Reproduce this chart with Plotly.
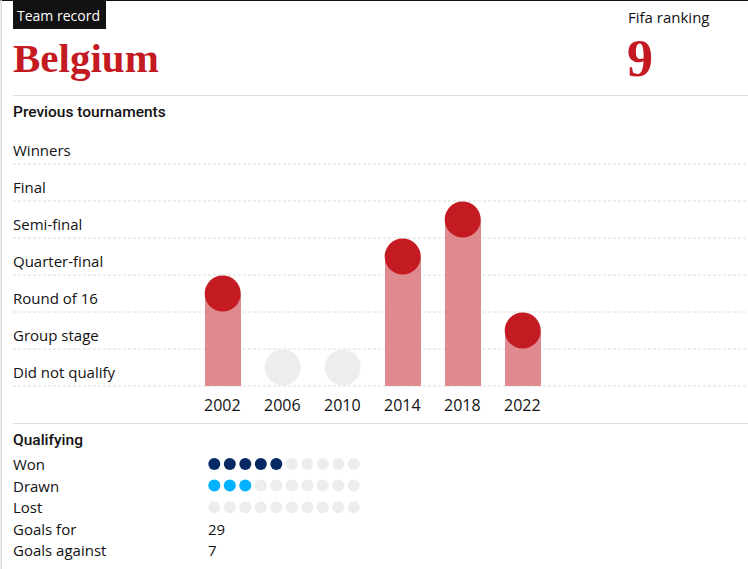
import plotly.graph_objects as go

# ---------------- data ----------------
team = "Belgium"
fifa_ranking = 9
stages = ["Did not qualify", "Group stage", "Round of 16", "Quarter-final",
          "Semi-final", "Final", "Winners"]
years = ["2002", "2006", "2010", "2014", "2018", "2022"]
year_stage = ["Round of 16", "Did not qualify", "Did not qualify",
              "Quarter-final", "Semi-final", "Group stage"]
qual_rows = ["Won", "Drawn", "Lost"]
qual_values = [5, 3, 0]
qual_slots = 10
goals_for = 29
goals_against = 7

# ---------------- style ----------------
W, H = 748, 569
FONT = "Open Sans"
TXT = "#121212"
RED = "#c41a22"
BAR = "#df8a8e"
GREY = "#ededed"
LINE = "#dcdcdc"
WON_C = "#052962"
DRAWN_C = "#00b2ff"

def px(p):
    return p / W

def py(p):
    return 1 - p / H

# main axis mapping: year index i -> pixel 222.7 + 60*i ; stage v -> pixel 367.5 - 37*v
X0, DX = 222.7, 60.0
Y0, DY = 367.5, 37.0
xr = [(0 - X0) / DX, (W - X0) / DX]
yr = [(Y0 - H) / DY, Y0 / DY]

# qualifying axis: slot j -> 214.3 + 15.5*j ; row r -> 464 + 21.6*r
QX0, QDX = 214.3, 15.5
QY0, QDY = 464.0, 21.6
x2r = [(0 - QX0) / QDX, (W - QX0) / QDX]
y2r = [(H - QY0) / QDY, (0 - QY0) / QDY]

fig = go.Figure()

idx = list(range(len(years)))
sv = [stages.index(s) for s in year_stage]
base = -0.5
qual_idx = [i for i in idx if sv[i] > 0]
dnq_idx = [i for i in idx if sv[i] == 0]

fig.add_trace(go.Bar(x=qual_idx, y=[sv[i] - base for i in qual_idx], base=base,
                     width=0.6, marker=dict(color=BAR, line=dict(width=0)),
                     hoverinfo="skip", showlegend=False))
fig.add_trace(go.Scatter(x=dnq_idx, y=[sv[i] for i in dnq_idx], mode="markers",
                         marker=dict(size=36, color=GREY, line=dict(width=0)),
                         hoverinfo="skip", showlegend=False))
fig.add_trace(go.Scatter(x=qual_idx, y=[sv[i] for i in qual_idx], mode="markers",
                         marker=dict(size=36, color=RED, line=dict(width=0)),
                         hoverinfo="skip", showlegend=False))

# qualifying dots
row_colors = [WON_C, DRAWN_C, GREY]
for r, (name, val) in enumerate(zip(qual_rows, qual_values)):
    xs = list(range(qual_slots))
    cols = [row_colors[r] if j < val else GREY for j in xs]
    fig.add_trace(go.Scatter(x=xs, y=[r] * qual_slots, mode="markers",
                             marker=dict(size=12, color=cols, line=dict(width=0)),
                             xaxis="x2", yaxis="y2", hoverinfo="skip", showlegend=False))

shapes = []
# dashed gridlines under each stage row
for k in range(len(stages)):
    shapes.append(dict(type="line", xref="paper", yref="y", x0=px(13), x1=1,
                       y0=k - 0.5, y1=k - 0.5, layer="below",
                       line=dict(color=LINE, width=1, dash="3px,2px")))
# solid separators
for yy in (95.5, 423.5):
    shapes.append(dict(type="line", xref="paper", yref="paper", x0=px(13), x1=1,
                       y0=py(yy), y1=py(yy), line=dict(color=LINE, width=1)))
# top border and left border
shapes.append(dict(type="line", xref="paper", yref="paper", x0=0, x1=1,
                   y0=py(0.5), y1=py(0.5), line=dict(color=TXT, width=1)))
shapes.append(dict(type="line", xref="paper", yref="paper", x0=px(1.2), x1=px(1.2),
                   y0=0, y1=1, line=dict(color=LINE, width=1.5)))
# label box
shapes.append(dict(type="rect", xref="paper", yref="paper", x0=px(13), x1=px(106),
                   y0=py(29), y1=1, fillcolor=TXT, line=dict(width=0)))

ann = []
PAD = 2  # annotation box padding
def text(x, y, s, size=15, color=TXT, family=FONT, xanchor="left", weight=None):
    f = dict(size=size, color=color, family=family)
    if weight:
        f["weight"] = weight
    ann.append(dict(xref="paper", yref="paper", x=px(x - PAD), y=py(y), text=s,
                    showarrow=False, xanchor=xanchor, yanchor="middle", font=f))

text(17, 15, "Team record", size=14, color="#ffffff")
text(13, 58, team, size=41, color=RED, family="Liberation Serif", weight="bold")
text(628, 17, "Fifa ranking", size=15)
text(627, 58, str(fifa_ranking), size=52, color=RED, family="Liberation Serif", weight="bold")
text(13, 112, "Previous tournaments", size=15.5, family="Roboto", weight=500)
for k, s in enumerate(stages):
    text(13, Y0 - DY * k + 4.5, s, size=15)
for i, y in enumerate(years):
    ann.append(dict(xref="x", yref="paper", x=i, y=py(405), text=y, showarrow=False,
                    xanchor="center", yanchor="middle",
                    font=dict(size=16, color=TXT, family=FONT)))
text(13, 440, "Qualifying", size=15.5, family="Roboto", weight=500)
for r, name in enumerate(qual_rows):
    text(13, QY0 + QDY * r, name, size=15)
text(13, 529, "Goals for", size=15)
text(13, 550, "Goals against", size=15)
text(208, 529, str(goals_for), size=15)
text(208, 550, str(goals_against), size=15)

fig.update_layout(
    width=W, height=H, margin=dict(l=0, r=0, t=0, b=0),
    paper_bgcolor="white", plot_bgcolor="rgba(0,0,0,0)",
    xaxis=dict(domain=[0, 1], range=xr, visible=False, fixedrange=True),
    yaxis=dict(domain=[0, 1], range=yr, visible=False, fixedrange=True),
    xaxis2=dict(domain=[0, 1], range=x2r, visible=False, anchor="y2", fixedrange=True),
    yaxis2=dict(domain=[0, 1], range=y2r, visible=False, anchor="x2", fixedrange=True),
    shapes=shapes, annotations=ann, bargap=0, showlegend=False,
)
fig.write_html("out.html", config={"displayModeBar": False})
